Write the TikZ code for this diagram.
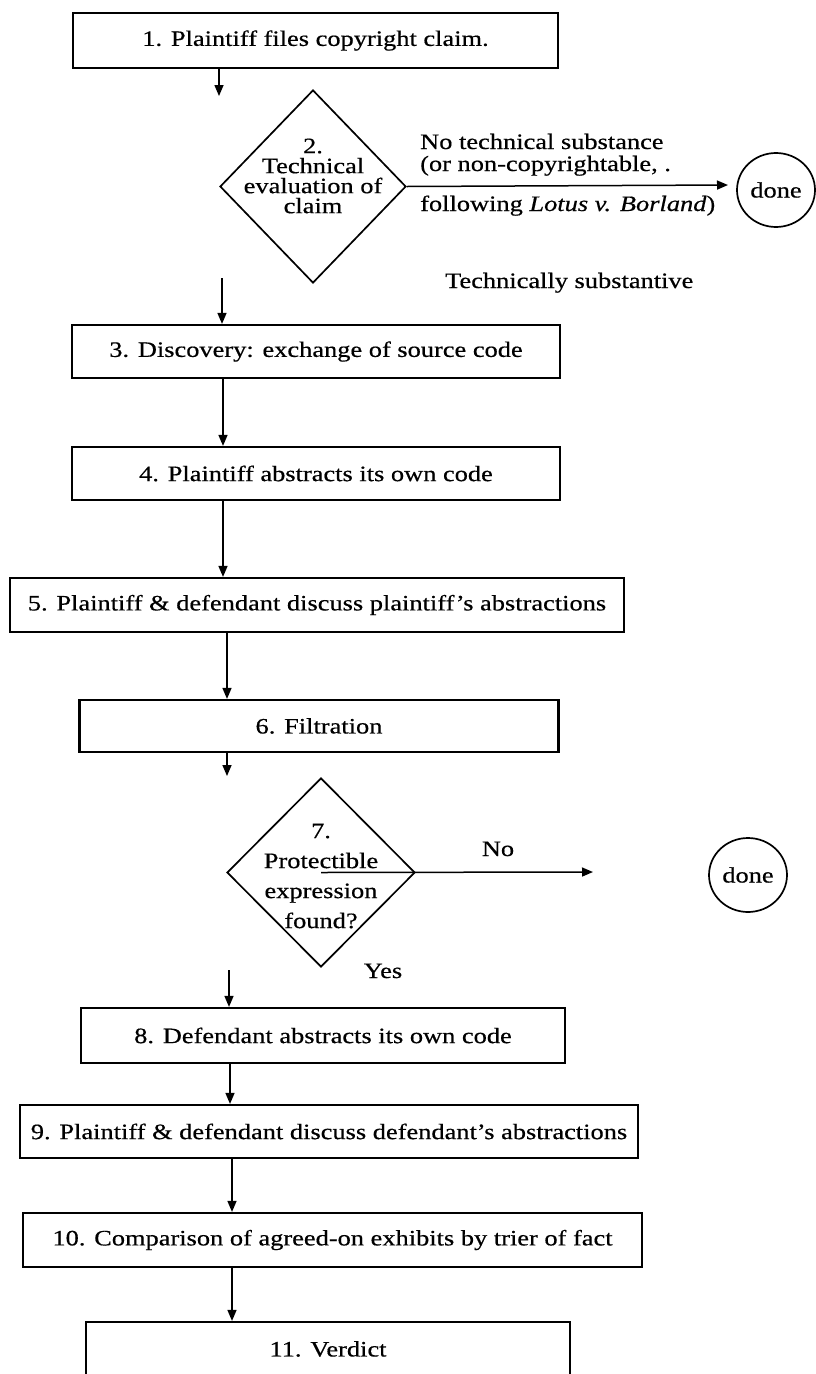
\documentclass[tikz,border=0pt]{standalone}
\usepackage{fontspec}
\setmainfont[FakeStretch=1.2,FakeBold=0.5]{Liberation Serif}
\usetikzlibrary{arrows.meta,shapes.geometric}
\begin{document}
\begin{tikzpicture}[x=1pt,y=-1pt,
  stepbox/.style={draw, line width=2.2pt, inner sep=0pt, font=\fontsize{22}{24}\selectfont},
  flow/.style={line width=1.5pt, -{Triangle[length=11pt,width=9pt]}},
  decision/.style={draw, diamond, line width=1.7pt, inner sep=0pt},
  dtext/.style={align=center, inner sep=0pt},
  lbl/.style={inner sep=0pt, font=\fontsize{22}{24}\selectfont},
  endstate/.style={draw, ellipse, line width=1.7pt, inner sep=0pt, minimum width=78pt, minimum height=74pt, font=\fontsize{22}{24}\selectfont}]
\useasboundingbox (0,0) rectangle (816,1374);
\fill[white] (0,0) rectangle (816,1374);

% boxes
\node[stepbox, minimum width=485pt, minimum height=55pt] (b1) at (315.5,40.5) {1. Plaintiff files copyright claim.};
\node[stepbox, minimum width=488pt, minimum height=53pt] (b3) at (316,351.5) {3. Discovery: exchange of source code};
\node[stepbox, minimum width=488pt, minimum height=53pt] (b4) at (316,473.5) {4. Plaintiff abstracts its own code};
\node[stepbox, minimum width=614pt, minimum height=54pt] (b5) at (317,605) {5. Plaintiff \& defendant discuss plaintiff's abstractions};
\node[stepbox, minimum width=479pt, minimum height=52pt] (b6) at (319,726) {6. Filtration};
\node[stepbox, minimum width=484pt, minimum height=55pt] (b8) at (323,1035.5) {8. Defendant abstracts its own code};
\node[stepbox, minimum width=618pt, minimum height=53pt] (b9) at (329,1131.5) {9. Plaintiff \& defendant discuss defendant's abstractions};
\node[stepbox, minimum width=619pt, minimum height=54pt] (b10) at (332.5,1240) {10. Comparison of agreed-on exhibits by trier of fact};
\node[stepbox, minimum width=484pt, minimum height=54pt] (b11) at (328,1349) {11. Verdict};

% decisions
\node[decision, minimum width=186pt, minimum height=193pt] (d2) at (313,186.5) {};
\node[dtext, font=\fontsize{22}{20}\selectfont] (d2t) at (313,176) {2.\\Technical\\evaluation of\\claim};
\node[decision, minimum width=188pt, minimum height=189pt] (d7) at (321,872.5) {};
\node[dtext, font=\fontsize{22}{30}\selectfont] (d7t) at (321,876) {7.\\Protectible\\expression\\found?};

% end states
\node[endstate] (e1) at (776,190) {done};
\node[endstate] (e2) at (748,875) {done};

% free connector ends
\coordinate (t1) at (219,96);
\coordinate (s2) at (222,278);
\coordinate (t6) at (227,776);
\coordinate (s7) at (229,970);
\coordinate (t2) at (728,185);
\coordinate (t7) at (593,872);

% connectors
\draw[flow] (b1.south -| t1) -- (t1);
\draw[flow] (d2.east) -- (t2);
\draw[flow] (s2) -- (b3.north -| s2);
\draw[flow] (b3.south -| 223,0) -- (b4.north -| 223,0);
\draw[flow] (b4.south -| 223,0) -- (b5.north -| 223,0);
\draw[flow] (b5.south -| 227,0) -- (b6.north -| 227,0);
\draw[flow] (b6.south -| t6) -- (t6);
\draw[flow] (d7.center) -- (t7);
\draw[flow] (s7) -- (b8.north -| s7);
\draw[flow] (b8.south -| 230,0) -- (b9.north -| 230,0);
\draw[flow] (b9.south -| 232,0) -- (b10.north -| 232,0);
\draw[flow] (b10.south -| 232,0) -- (b11.north -| 232,0);

% labels
\node[lbl, anchor=base west] (l2a) at (420,149) {No technical substance};
\node[lbl, anchor=base west] (l2b) at (420,171) {(or non-copyrightable, .};
\node[lbl, anchor=base west] (l2c) at (420,211) {following \textit{Lotus v. Borland})};
\node[lbl, anchor=base west] (l2d) at (445,288) {Technically substantive};
\node[lbl, anchor=base] (l7a) at (498,856) {No};
\node[lbl, anchor=base] (l7b) at (383,978) {Yes};
\end{tikzpicture}
\end{document}
